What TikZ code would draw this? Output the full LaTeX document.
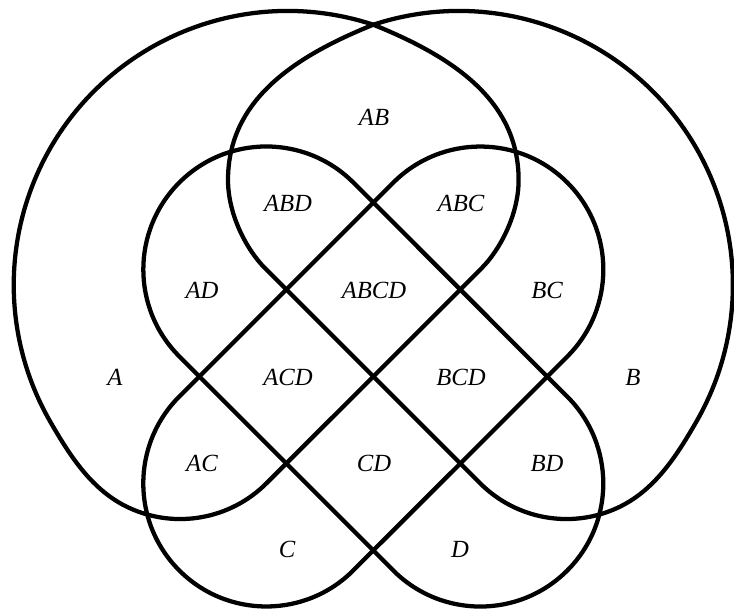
\documentclass[tikz,border=0pt]{standalone}
\usepackage{fontspec}
\setmainfont{Liberation Serif}
\begin{document}
\begin{tikzpicture}[x=0.75pt,y=-0.75pt,
  setshape/.style={line width=3.2pt, line join=round},
  lbl/.style={font=\fontsize{18.5}{20}\selectfont\itshape, inner sep=0pt}]
\useasboundingbox (0,0) rectangle (734,608);

% D shape (band running down-right)
\draw[setshape] (353.3,182.5) arc[start angle=-45, end angle=-225, radius=123]
  -- (393.3,570.5) arc[start angle=135, end angle=-45, radius=123] -- cycle;

% C shape (band running up-right)
\draw[setshape] (393.3,182.5) -- (179.3,396.5) arc[start angle=225, end angle=45, radius=123]
  -- (567.3,356.5) arc[start angle=45, end angle=-135, radius=123] -- cycle;

% B shape
\draw[setshape] (373.3,24.7) arc[start angle=-108.2, end angle=30, radius=274]
  .. controls (676.2,456.6) and (654.2,490.7) .. (618,507.6)
  arc[start angle=65, end angle=135, radius=122]
  -- (265,268.2) .. controls (247,250.2) and (228,215) .. (228,180)
  .. controls (228,100) and (294.5,56.5) .. (373.3,24.7) -- cycle;

% A shape
\draw[setshape] (373.3,24.7) arc[start angle=-71.8, end angle=-210, radius=274]
  .. controls (70.4,456.6) and (92.4,490.7) .. (128.6,507.6)
  arc[start angle=115, end angle=45, radius=122]
  -- (481.6,268.2) .. controls (499.6,250.2) and (518.6,215) .. (518.6,180)
  .. controls (518.6,100) and (452.1,56.5) .. (373.3,24.7) -- cycle;

% labels
\node[lbl] (lAB)   at (374,117) {AB};
\node[lbl] (lABD)  at (288,203) {ABD};
\node[lbl] (lABC)  at (461,203) {ABC};
\node[lbl] (lAD)   at (202,290) {AD};
\node[lbl] (lABCD) at (374,290) {ABCD};
\node[lbl] (lBC)   at (547,290) {BC};
\node[lbl] (lA)    at (115,377) {A};
\node[lbl] (lACD)  at (288,377) {ACD};
\node[lbl] (lBCD)  at (461,377) {BCD};
\node[lbl] (lB)    at (633,377) {B};
\node[lbl] (lAC)   at (202,463) {AC};
\node[lbl] (lCD)   at (374,463) {CD};
\node[lbl] (lBD)   at (547,463) {BD};
\node[lbl] (lC)    at (287,549) {C};
\node[lbl] (lD)    at (460,549) {D};
\end{tikzpicture}
\end{document}
